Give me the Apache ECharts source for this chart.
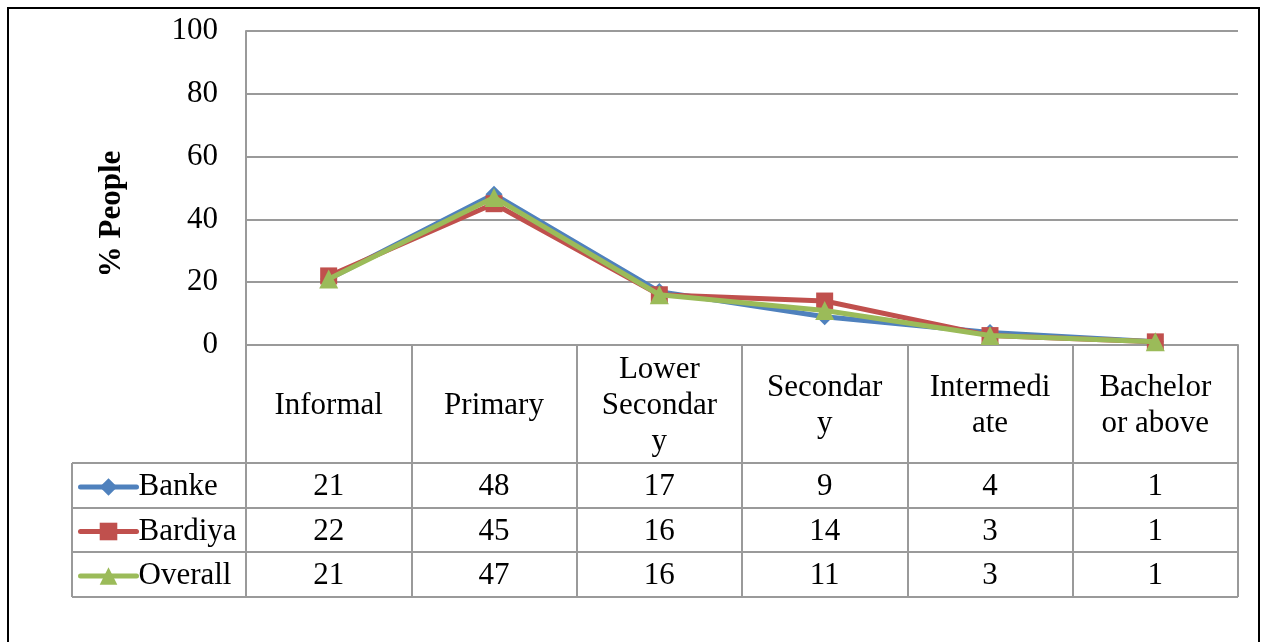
<!DOCTYPE html>
<html>
<head>
<meta charset="utf-8">
<script src="https://cdn.jsdelivr.net/npm/echarts@6/dist/echarts.min.js"></script>
<style>
  html, body { margin: 0; padding: 0; background: #fff; }
  #chart { width: 1262px; height: 642px; }
</style>
</head>
<body>
<div id="chart"></div>
<script>
const categories = ['Informal', 'Primary', 'Lower\nSecondar\ny', 'Secondar\ny', 'Intermedi\nate', 'Bachelor\nor above']
const seriesNames = ['Banke', 'Bardiya', 'Overall']
const banke = [21, 48, 17, 9, 4, 1]
const bardiya = [22, 45, 16, 14, 3, 1]
const overall = [21, 47, 16, 11, 3, 1]
const yTicks = [0, 20, 40, 60, 80, 100]

const FONT = '"Liberation Serif", "Times New Roman", serif'
const FS = 31
const GRID_COLOR = '#9a9a9a'
const COLORS = ['#4f81bd', '#c0504d', '#9bbb59']
const SYMBOLS = ['diamond', 'rect', 'triangle']
const SYMBOL_SIZES = [17, 17, 19]

// layout of plot + data table
const L = 246, R = 1238, T = 31, B = 345
const ROW_LINES = [463, 508, 552, 597]
const LEGEND_X = 72
const rowCenters = [487, 531.5, 576]
const tableRows = [banke, bardiya, overall]

const chart = echarts.init(document.getElementById('chart'))

const valueAxes = tableRows.map((row, i) => ({
  type: 'category',
  data: categories,
  gridIndex: 0,
  position: 'bottom',
  offset: rowCenters[i] - B,
  axisLine: { show: false },
  axisTick: { show: false },
  axisLabel: {
    interval: 0,
    margin: 0,
    verticalAlign: 'middle',
    fontFamily: FONT,
    fontSize: FS,
    color: '#000',
    formatter: (v, idx) => String(row[idx])
  }
}))

const tableLines = []
ROW_LINES.forEach(y => {
  tableLines.push({
    type: 'line',
    shape: { x1: LEGEND_X, y1: y, x2: R, y2: y },
    style: { stroke: GRID_COLOR, lineWidth: 2 }
  })
})
tableLines.push({
  type: 'line',
  shape: { x1: LEGEND_X, y1: ROW_LINES[0], x2: LEGEND_X, y2: ROW_LINES[3] },
  style: { stroke: GRID_COLOR, lineWidth: 2 }
})

const legends = seriesNames.map((name, i) => ({
  data: [name],
  orient: 'vertical',
  left: 78,
  top: rowCenters[i] - 18,
  itemWidth: 56,
  itemHeight: 22,
  itemGap: 0,
  padding: 0,
  selectedMode: false,
  lineStyle: { width: 5, cap: 'round' },
  textStyle: { fontFamily: FONT, fontSize: FS, color: '#000', lineHeight: 36, padding: [0, 0, 0, -3] }
}))

const option = {
  animation: false,
  backgroundColor: '#fff',
  grid: { left: L, right: 1262 - R, top: T, bottom: 642 - B },
  legend: legends,
  xAxis: [{
    type: 'category',
    data: categories,
    boundaryGap: true,
    axisLine: { show: true, lineStyle: { color: GRID_COLOR, width: 2 } },
    axisTick: {
      show: true,
      inside: false,
      length: ROW_LINES[3] - B,
      lineStyle: { color: GRID_COLOR, width: 2 }
    },
    axisLabel: {
      interval: 0,
      margin: 61,
      verticalAlign: 'middle',
      lineHeight: 36,
      fontFamily: FONT,
      fontSize: FS,
      color: '#000'
    }
  }, ...valueAxes],
  yAxis: {
    type: 'value',
    min: yTicks[0],
    max: yTicks[yTicks.length - 1],
    interval: 20,
    axisLine: { show: true, lineStyle: { color: GRID_COLOR, width: 2 } },
    axisTick: { show: false },
    splitLine: { show: true, lineStyle: { color: GRID_COLOR, width: 2 } },
    axisLabel: {
      margin: 28,
      fontFamily: FONT,
      fontSize: FS,
      color: '#000'
    }
  },
  series: tableRows.map((row, i) => ({
    name: seriesNames[i],
    type: 'line',
    data: row,
    symbol: SYMBOLS[i],
    symbolSize: SYMBOL_SIZES[i],
    showAllSymbol: true,
    lineStyle: { color: COLORS[i], width: 5 },
    itemStyle: { color: COLORS[i] },
    z: 3 + i
  })),
  graphic: [
    {
      type: 'rect',
      shape: { x: 8, y: 8, width: 1251, height: 660 },
      style: { fill: null, stroke: '#000', lineWidth: 2 },
      silent: true
    },
    {
      type: 'text',
      x: 112,
      y: 214,
      rotation: Math.PI / 2,
      style: {
        text: '% People',
        font: 'bold ' + FS + 'px ' + FONT,
        fill: '#000',
        align: 'center',
        verticalAlign: 'middle'
      }
    },
    ...tableLines
  ]
}

chart.setOption(option)
</script>
</body>
</html>
